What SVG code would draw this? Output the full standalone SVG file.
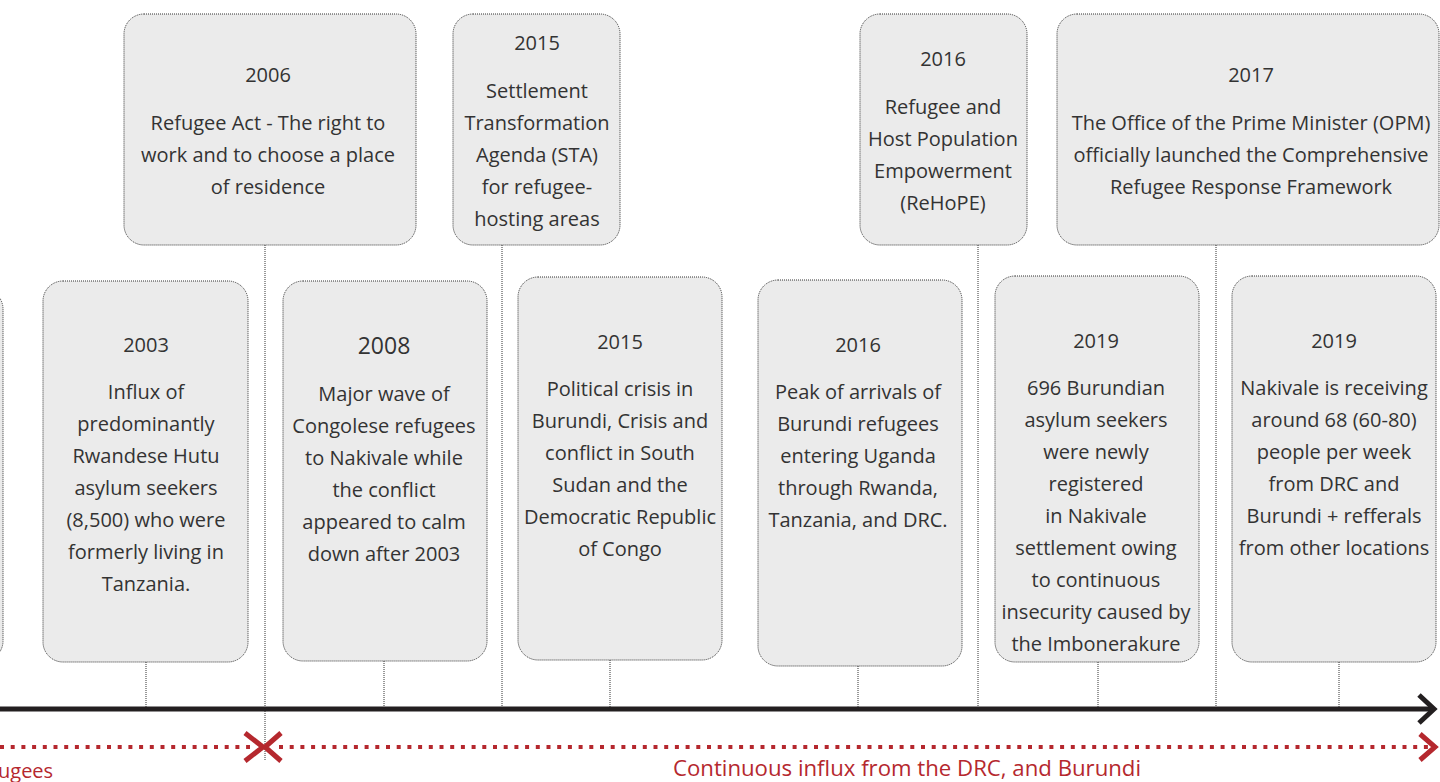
<svg xmlns="http://www.w3.org/2000/svg" width="1440" height="782" viewBox="0 0 1440 782">
<style>
.box{fill:#ebebeb;stroke:#333;stroke-width:1;stroke-dasharray:1 1}
.stem{fill:none;stroke:#333;stroke-width:1;stroke-dasharray:1 1}
text{font-family:"Open Sans","Noto Sans",sans-serif;font-size:20px;fill:#333;text-anchor:middle}
.yr2008{font-size:23px}
.red{fill:#b5282e}
.axis{fill:none;stroke:#231f20;stroke-width:5}
.redline{fill:none;stroke:#b5282e;stroke-width:4;stroke-dasharray:4 6.7}
.redhead{fill:none;stroke:#b5282e;stroke-width:5}
</style>
<rect width="1440" height="782" fill="#fff"/>
<g id="connectors">
<line class="stem" x1="265" y1="245" x2="265" y2="760"/>
<line class="stem" x1="502" y1="245" x2="502" y2="707"/>
<line class="stem" x1="978" y1="245" x2="978" y2="707"/>
<line class="stem" x1="1216" y1="245" x2="1216" y2="707"/>
<line class="stem" x1="146" y1="662" x2="146" y2="707"/>
<line class="stem" x1="384" y1="661" x2="384" y2="707"/>
<line class="stem" x1="610" y1="660" x2="610" y2="707"/>
<line class="stem" x1="858" y1="666" x2="858" y2="707"/>
<line class="stem" x1="1098" y1="662" x2="1098" y2="707"/>
<line class="stem" x1="1339" y1="662" x2="1339" y2="707"/>
<line class="axis" x1="0" y1="709" x2="1433" y2="709"/>
<polyline class="axis" points="1419,695 1434,709 1419,723"/>
<line class="redline" x1="0" y1="747" x2="250" y2="747"/>
<line class="redline" x1="279" y1="747" x2="1432" y2="747"/>
<polyline class="redhead" points="245,733 263,747 245,761"/>
<polyline class="redhead" points="281,733 265,747 281,761"/>
<polyline class="redhead" points="1420,734 1435,747 1420,760"/>
</g>
<g id="label-left"><text class="red" x="-2" y="778" style="text-anchor:start">ugees</text></g>
<g id="label-right"><text class="red" x="907" y="776" style="font-size:22.2px">Continuous influx from the DRC, and Burundi</text></g>
<g id="node-left-partial"><rect class="box" x="-200" y="289" width="203" height="372" rx="20"/></g>
<g id="node-2006">
<rect class="box" x="124" y="14" width="292" height="231" rx="20"/>
<text x="268" y="82">2006</text>
<text x="268" y="130">Refugee Act - The right to</text>
<text x="268" y="162">work and to choose a place</text>
<text x="268" y="194">of residence</text>
</g>
<g id="node-2015-sta">
<rect class="box" x="453" y="14" width="167" height="231" rx="20"/>
<text x="537" y="50">2015</text>
<text x="537" y="98">Settlement</text>
<text x="537" y="130">Transformation</text>
<text x="537" y="162">Agenda (STA)</text>
<text x="537" y="194">for refugee-</text>
<text x="537" y="226">hosting areas</text>
</g>
<g id="node-2016-rehope">
<rect class="box" x="860" y="14" width="167" height="231" rx="20"/>
<text x="943" y="66">2016</text>
<text x="943" y="114">Refugee and</text>
<text x="943" y="146">Host Population</text>
<text x="943" y="178">Empowerment</text>
<text x="943" y="210">(ReHoPE)</text>
</g>
<g id="node-2017">
<rect class="box" x="1057" y="14" width="382" height="231" rx="20"/>
<text x="1251" y="82">2017</text>
<text x="1251" y="130">The Office of the Prime Minister (OPM)</text>
<text x="1251" y="162">officially launched the Comprehensive</text>
<text x="1251" y="194">Refugee Response Framework</text>
</g>
<g id="node-2003">
<rect class="box" x="43" y="281" width="205" height="381" rx="20"/>
<text x="146" y="352">2003</text>
<text x="146" y="399">Influx of</text>
<text x="146" y="431">predominantly</text>
<text x="146" y="463">Rwandese Hutu</text>
<text x="146" y="495">asylum seekers</text>
<text x="146" y="527">(8,500) who were</text>
<text x="146" y="559">formerly living in</text>
<text x="146" y="591">Tanzania.</text>
</g>
<g id="node-2008">
<rect class="box" x="283" y="281" width="204" height="380" rx="20"/>
<text class="yr2008" x="384" y="354">2008</text>
<text x="384" y="401">Major wave of</text>
<text x="384" y="433">Congolese refugees</text>
<text x="384" y="465">to Nakivale while</text>
<text x="384" y="497">the conflict</text>
<text x="384" y="529">appeared to calm</text>
<text x="384" y="561">down after 2003</text>
</g>
<g id="node-2015-crisis">
<rect class="box" x="518" y="277" width="204" height="383" rx="20"/>
<text x="620" y="349">2015</text>
<text x="620" y="396">Political crisis in</text>
<text x="620" y="428">Burundi, Crisis and</text>
<text x="620" y="460">conflict in South</text>
<text x="620" y="492">Sudan and the</text>
<text x="620" y="524">Democratic Republic</text>
<text x="620" y="556">of Congo</text>
</g>
<g id="node-2016-peak">
<rect class="box" x="758" y="280" width="204" height="386" rx="20"/>
<text x="858" y="352">2016</text>
<text x="858" y="399">Peak of arrivals of</text>
<text x="858" y="431">Burundi refugees</text>
<text x="858" y="463">entering Uganda</text>
<text x="858" y="495">through Rwanda,</text>
<text x="858" y="527">Tanzania, and DRC.</text>
</g>
<g id="node-2019-burundian">
<rect class="box" x="995" y="276" width="204" height="386" rx="20"/>
<text x="1096" y="348">2019</text>
<text x="1096" y="395">696 Burundian</text>
<text x="1096" y="427">asylum seekers</text>
<text x="1096" y="459">were newly</text>
<text x="1096" y="491">registered</text>
<text x="1096" y="523">in Nakivale</text>
<text x="1096" y="555">settlement owing</text>
<text x="1096" y="587">to continuous</text>
<text x="1096" y="619">insecurity caused by</text>
<text x="1096" y="651">the Imbonerakure</text>
</g>
<g id="node-2019-weekly">
<rect class="box" x="1232" y="276" width="204" height="386" rx="20"/>
<text x="1334" y="348">2019</text>
<text x="1334" y="395">Nakivale is receiving</text>
<text x="1334" y="427">around 68 (60-80)</text>
<text x="1334" y="459">people per week</text>
<text x="1334" y="491">from DRC and</text>
<text x="1334" y="523">Burundi + refferals</text>
<text x="1334" y="555">from other locations</text>
</g>
</svg>
